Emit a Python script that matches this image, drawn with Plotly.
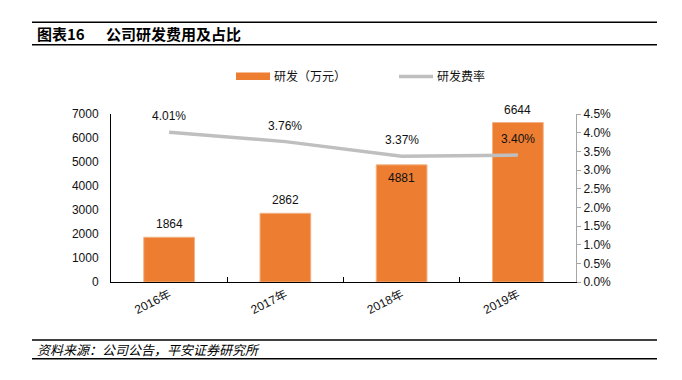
import plotly.graph_objects as go

categories = ["2016年", "2017年", "2018年", "2019年"]
rd_expense = [1864, 2862, 4881, 6644]          # 研发(万元)
rd_ratio = [0.0401, 0.0376, 0.0337, 0.0340]    # 研发费率
bar_labels = ["1864", "2862", "4881", "6644"]
ratio_labels = ["4.01%", "3.76%", "3.37%", "3.40%"]

OFF = 8  # page body margin
W_FIG, H_FIG = 682 - OFF, 380 - OFF
PL, PT, PW, PH = 111, 114, 465, 168   # target plot area in screen pixels
L, T = PL - OFF, PT - OFF
R = W_FIG - L - PW
B = H_FIG - T - PH

def fx(x):
    return (x - PL) / PW

def fy(y):
    return (PT + PH - y) / PH

LAT = "Liberation Sans, Arial, Noto Sans CJK SC"
CJK = "Noto Sans CJK SC, Liberation Sans"
TXT = "#111111"
INSIDE_LABEL = {"2018年"}   # bar label drawn just inside the bar top

fig = go.Figure()
fig.add_trace(go.Bar(
    x=categories, y=rd_expense, name="研发（万元）",
    marker=dict(color="#ED7D31", line=dict(width=1, color="#F4B183")),
    width=0.436, yaxis="y", showlegend=False,
))
fig.add_trace(go.Scatter(
    x=categories, y=rd_ratio, name="研发费率", mode="lines",
    line=dict(color="#BFBFBF", width=3.5), yaxis="y2", showlegend=False,
))

annotations = []
for c, v, t in zip(categories, rd_expense, bar_labels):
    annotations.append(dict(x=c, y=v, xref="x", yref="y", text=t, showarrow=False,
                            yshift=-13 if c in INSIDE_LABEL else 13,
                            font=dict(family=LAT, size=12, color=TXT)))
for c, v, t in zip(categories, rd_ratio, ratio_labels):
    annotations.append(dict(x=c, y=v, xref="x", yref="y2", text=t, showarrow=False,
                            yshift=16, font=dict(family=LAT, size=12, color=TXT)))

# title
annotations.append(dict(x=fx(35), y=fy(34), xref="paper", yref="paper", xanchor="left",
                        yanchor="middle", text="<b>图表16</b>", showarrow=False,
                        font=dict(family=CJK, size=15, color="#000")))
annotations.append(dict(x=fx(104), y=fy(34), xref="paper", yref="paper", xanchor="left",
                        yanchor="middle", text="<b>公司研发费用及占比</b>", showarrow=False,
                        font=dict(family=CJK, size=15, color="#000")))
# source
annotations.append(dict(x=fx(35), y=fy(349), xref="paper", yref="paper", xanchor="left",
                        yanchor="middle", text="<i>资料来源：公司公告，平安证券研究所</i>",
                        showarrow=False, font=dict(family=CJK, size=13, color="#000")))
# legend text
annotations.append(dict(x=fx(272), y=fy(76), xref="paper", yref="paper", xanchor="left",
                        yanchor="middle", text="研发（万元）", showarrow=False,
                        font=dict(family=CJK, size=12, color=TXT)))
annotations.append(dict(x=fx(435), y=fy(76), xref="paper", yref="paper", xanchor="left",
                        yanchor="middle", text="研发费率", showarrow=False,
                        font=dict(family=CJK, size=12, color=TXT)))

shapes = [
    dict(type="line", xref="paper", yref="paper", x0=fx(32), x1=fx(657), y0=fy(22.3), y1=fy(22.3),
         line=dict(color="#000", width=1.6)),
    dict(type="line", xref="paper", yref="paper", x0=fx(32), x1=fx(657), y0=fy(44.7), y1=fy(44.7),
         line=dict(color="#000", width=1.6)),
    dict(type="line", xref="paper", yref="paper", x0=fx(32), x1=fx(657), y0=fy(340), y1=fy(340),
         line=dict(color="#000", width=1.6)),
    dict(type="line", xref="paper", yref="paper", x0=fx(32), x1=fx(657), y0=fy(358.7), y1=fy(358.7),
         line=dict(color="#000", width=1.6)),
    dict(type="rect", xref="paper", yref="paper", x0=fx(236), x1=fx(270), y0=fy(80), y1=fy(72.5),
         fillcolor="#ED7D31", line=dict(width=0)),
    dict(type="line", xref="paper", yref="paper", x0=fx(399), x1=fx(433), y0=fy(76.5), y1=fy(76.5),
         line=dict(color="#BFBFBF", width=3.5)),
]

fig.update_layout(
    width=W_FIG, height=H_FIG,
    margin=dict(l=L, r=R, t=T, b=B, pad=0),
    paper_bgcolor="white", plot_bgcolor="white",
    showlegend=False,
    annotations=annotations, shapes=shapes,
    xaxis=dict(type="category", showline=True, linecolor="#000", linewidth=1,
               ticks="inside", tickson="boundaries", ticklen=5, tickcolor="#000",
               tickangle=-27, tickfont=dict(family=LAT, size=12, color=TXT),
               showgrid=False, zeroline=False),
    yaxis=dict(range=[0, 7000], dtick=1000, showline=True, linecolor="#000", linewidth=1,
               ticks="", showgrid=False, zeroline=False, ticklabelstandoff=9,
               tickfont=dict(family=LAT, size=12, color=TXT)),
    yaxis2=dict(range=[0, 0.045], dtick=0.005, tickformat=".1%", overlaying="y", side="right",
                showline=True, linecolor="#A6A6A6", linewidth=1, ticks="outside", ticklen=4,
                tickcolor="#A6A6A6", showgrid=False, zeroline=False,
                tickfont=dict(family=LAT, size=12, color=TXT)),
)

fig.write_html("out.html")
